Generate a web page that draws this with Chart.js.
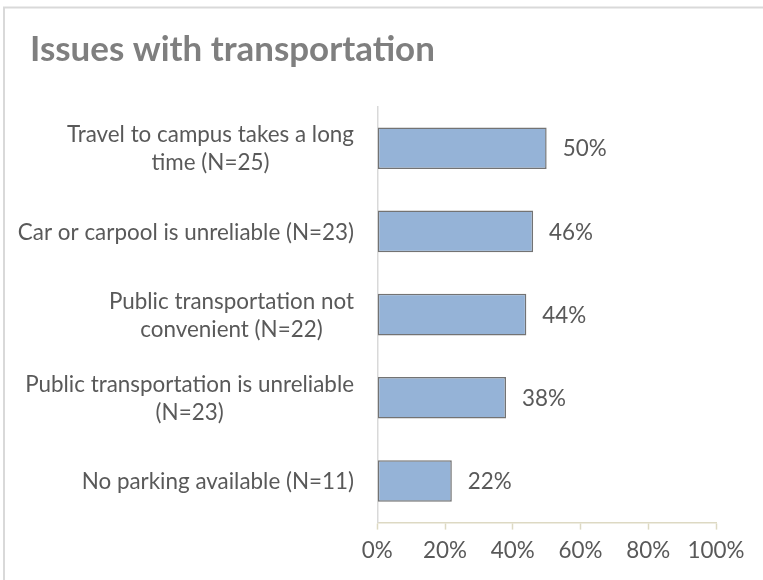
<!DOCTYPE html>
<html>
<head>
<meta charset="utf-8">
<script src="https://cdn.jsdelivr.net/npm/chart.js@4.4.1/dist/chart.umd.min.js"></script>
<style>
  html, body { margin: 0; padding: 0; background: #ffffff; }
  #wrap { position: relative; width: 763px; height: 580px; }
</style>
</head>
<body>
<div id="wrap"><canvas id="c" width="763" height="580"></canvas></div>
<script>
// ---- data ----
const chartTitle = "Issues with transportation";
const categories = [
  ["Travel to campus takes a long", "time (N=25)"],
  ["Car or carpool is unreliable (N=23)"],
  ["Public transportation not", "convenient (N=22)"],
  ["Public transportation is unreliable", "(N=23)"],
  ["No parking available (N=11)"]
];
const values = [50, 46, 44, 38, 22];
const tickLabels = ["0%", "20%", "40%", "60%", "80%", "100%"];

// ---- styling helpers ----
const FAMILY = "Lato, 'Open Sans', sans-serif";
const mctx = document.createElement('canvas').getContext('2d');
function fitSize(text, weight, target) {
  mctx.font = weight + ' 100px ' + FAMILY;
  return 100 * target / mctx.measureText(text).width;
}
const labelSize = fitSize("Public transportation is unreliable", "normal", 329);
const titleSize = fitSize(chartTitle, "bold", 405);
const textColor = '#595959';
const titleLH = 1.2;
const titleCenterY = 50;
const plotTop = 106.6;
const plotBottom = 522.6;
const plotLeft = 377.3;
const plotRight = 716;
const titlePadTop = titleCenterY - titleSize * titleLH / 2;
const titlePadBottom = plotTop - titleCenterY - titleSize * titleLH / 2;

const framePlugin = {
  id: 'frame',
  beforeDraw(chart) {
    const ctx = chart.ctx;
    ctx.save();
    ctx.fillStyle = '#ffffff';
    ctx.fillRect(0, 0, chart.width, chart.height);
    ctx.strokeStyle = '#d9d9d9';
    ctx.lineWidth = 2;
    ctx.beginPath();
    ctx.moveTo(4, chart.height);
    ctx.lineTo(4, 7.5);
    ctx.lineTo(chart.width, 7.5);
    ctx.stroke();
    ctx.restore();
  }
};

const yLabelPlugin = {
  id: 'yLabels',
  afterDraw(chart) {
    const ctx = chart.ctx;
    const ys = chart.scales.y;
    const lh = 28;
    const rightEdge = 354;
    ctx.save();
    ctx.font = 'normal ' + labelSize + 'px ' + FAMILY;
    ctx.fillStyle = textColor;
    ctx.textAlign = 'center';
    ctx.textBaseline = 'middle';
    categories.forEach((lines, i) => {
      const cy = ys.getPixelForTick(i) + 1;
      let w = 0;
      lines.forEach(l => { w = Math.max(w, ctx.measureText(l).width); });
      const cx = rightEdge - w / 2;
      lines.forEach((l, j) => {
        ctx.fillText(l, cx, cy + (j - (lines.length - 1) / 2) * lh);
      });
    });
    ctx.restore();
  }
};

const valueLabelPlugin = {
  id: 'valueLabels',
  afterDatasetsDraw(chart) {
    const ctx = chart.ctx;
    const meta = chart.getDatasetMeta(0);
    ctx.save();
    ctx.font = 'normal ' + labelSize + 'px ' + FAMILY;
    ctx.fillStyle = textColor;
    ctx.textAlign = 'left';
    ctx.textBaseline = 'middle';
    meta.data.forEach((bar, i) => {
      ctx.fillText(values[i] + '%', bar.x + 16, bar.y + 1);
    });
    ctx.restore();
  }
};

new Chart(document.getElementById('c'), {
  type: 'bar',
  data: {
    labels: categories,
    datasets: [{
      data: values,
      backgroundColor: '#95b3d7',
      borderColor: '#737373',
      borderWidth: 1.5,
      borderSkipped: false,
      barPercentage: 0.5,
      categoryPercentage: 1.0
    }]
  },
  options: {
    indexAxis: 'y',
    responsive: false,
    animation: false,
    devicePixelRatio: 1,
    layout: { padding: { left: 30, right: 763 - plotRight, top: 0, bottom: 0 } },
    plugins: {
      legend: { display: false },
      tooltip: { enabled: false },
      title: {
        display: true,
        text: chartTitle,
        align: 'start',
        color: '#7f7f7f',
        font: { family: FAMILY, size: titleSize, weight: 'bold', lineHeight: titleLH },
        padding: { top: titlePadTop, bottom: titlePadBottom }
      }
    },
    scales: {
      x: {
        min: 0,
        max: 100,
        ticks: {
          stepSize: 20,
          color: textColor,
          padding: 8,
          font: { family: FAMILY, size: labelSize, lineHeight: 1.2 },
          callback: (v, i) => tickLabels[i]
        },
        grid: {
          display: true,
          drawOnChartArea: false,
          drawTicks: true,
          tickLength: 7,
          tickColor: '#ddd9c3',
          tickWidth: 1.5
        },
        border: { display: true, color: '#ddd9c3', width: 1.5 },
        afterFit: s => { s.height = 580 - plotBottom; }
      },
      y: {
        ticks: { display: false },
        grid: { display: false },
        border: { display: true, color: '#d9d9d9', width: 1.5 },
        afterFit: s => { s.width = plotLeft - 30; }
      }
    }
  },
  plugins: [framePlugin, yLabelPlugin, valueLabelPlugin]
});
</script>
</body>
</html>
